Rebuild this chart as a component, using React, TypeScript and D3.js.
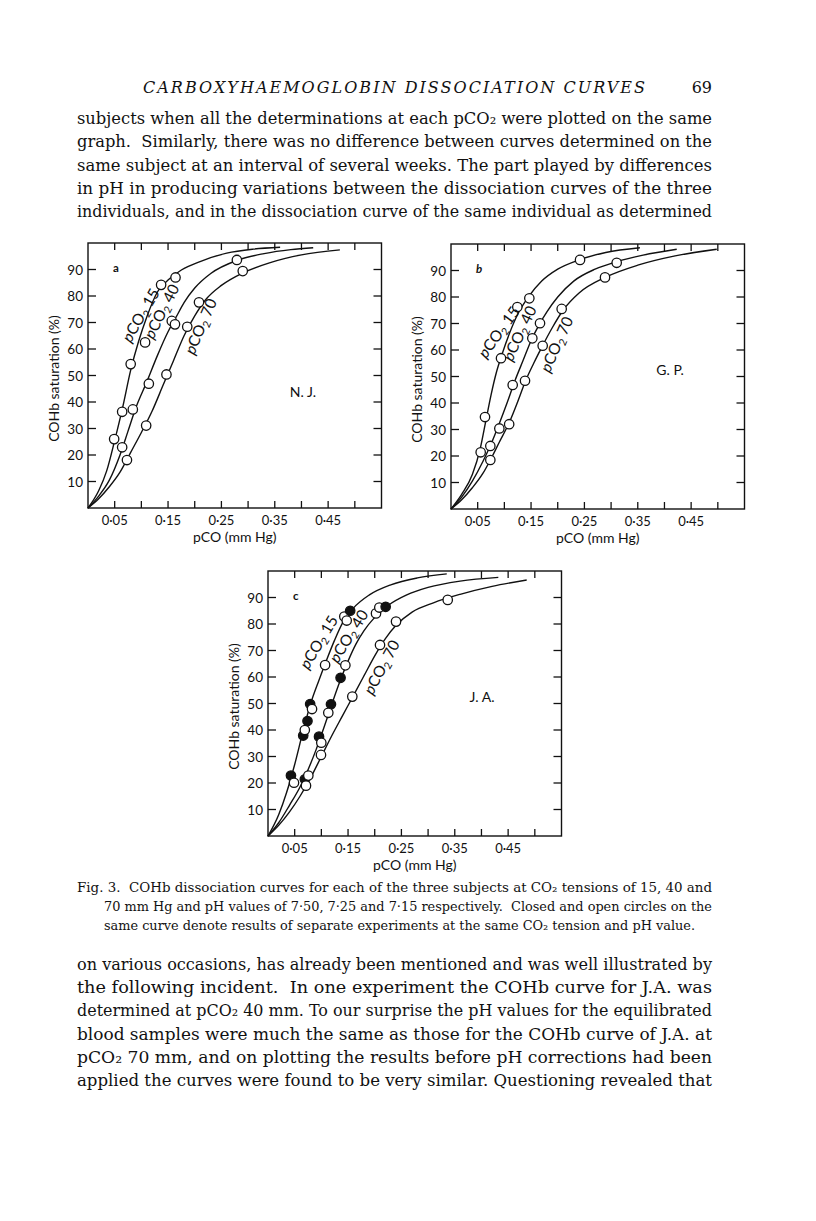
import React from "react";
import * as d3 from "d3";

// axis ticks (pCO in mm Hg, COHb saturation in %)
const xTicks = [0.05, 0.1, 0.15, 0.2, 0.25, 0.3, 0.35, 0.4, 0.45, 0.5];
const xLabels = [0.05, 0.15, 0.25, 0.35, 0.45];
const yTicks = [10, 20, 30, 40, 50, 60, 70, 80, 90];

// ---- panel a, N. J. : fitted curves [pCO, %] ----
const njCurve15 = [[0, 0], [0.02, 6.5], [0.035, 14], [0.05, 25.5], [0.065, 38], [0.08, 52], [0.095, 63], [0.11, 72], [0.13, 81.5], [0.15, 86], [0.175, 89.8], [0.21, 93], [0.26, 96.2], [0.31, 97.7], [0.36, 98.4]];
const njCurve40 = [[0, 0], [0.02, 4.5], [0.04, 10.5], [0.06, 20], [0.075, 29], [0.09, 38], [0.11, 47.5], [0.13, 57.5], [0.15, 66.5], [0.165, 72], [0.18, 77.5], [0.2, 83], [0.23, 88.5], [0.28, 93.5], [0.33, 96], [0.38, 97.5], [0.422, 98.2]];
const njCurve70 = [[0, 0], [0.02, 3.5], [0.04, 8], [0.06, 13.5], [0.08, 21], [0.1, 28.5], [0.12, 36.5], [0.14, 46], [0.16, 55.5], [0.18, 65], [0.2, 72.5], [0.22, 78.5], [0.25, 84], [0.29, 88.7], [0.34, 92.5], [0.4, 95.5], [0.472, 97.4]];
// observed points [pCO, %, filled]
const njPoints15 = [[0.049, 26, 0], [0.064, 36.3, 0], [0.08, 54.3, 0], [0.107, 62.5, 0], [0.137, 84.2, 0], [0.164, 87, 0]];
const njPoints40 = [[0.064, 22.9, 0], [0.084, 37.2, 0], [0.114, 46.9, 0], [0.157, 70.6, 0], [0.163, 69.3, 0], [0.279, 93.6, 0]];
const njPoints70 = [[0.073, 18.1, 0], [0.109, 31.1, 0], [0.147, 50.4, 0], [0.186, 68.4, 0], [0.208, 77.6, 0], [0.29, 89.4, 0]];

// ---- panel b, G. P. ----
const gpCurve15 = [[0, 0], [0.02, 5.5], [0.04, 13], [0.055, 23], [0.065, 33], [0.075, 43], [0.085, 51.5], [0.095, 58], [0.11, 66.5], [0.125, 73.5], [0.145, 80], [0.17, 86], [0.2, 90.5], [0.24, 94], [0.29, 96.8], [0.354, 98.6]];
const gpCurve40 = [[0, 0], [0.02, 4.5], [0.04, 10.5], [0.06, 18], [0.075, 24.5], [0.09, 32], [0.105, 40], [0.12, 48.5], [0.135, 56], [0.15, 63.5], [0.165, 69.5], [0.18, 74.5], [0.2, 80], [0.23, 86], [0.27, 90.5], [0.31, 93.3], [0.36, 95.8], [0.423, 98]];
const gpCurve70 = [[0, 0], [0.02, 3.5], [0.04, 8], [0.06, 13.5], [0.075, 19], [0.09, 25], [0.11, 33], [0.125, 40.5], [0.14, 48.5], [0.155, 55], [0.17, 61], [0.19, 68.5], [0.21, 75], [0.24, 81.5], [0.29, 87.5], [0.35, 92], [0.42, 95.5], [0.498, 98]];
const gpPoints15 = [[0.0556, 21.4, 0], [0.0637, 34.7, 0], [0.0937, 56.9, 0], [0.1243, 76.2, 0], [0.1468, 79.5, 0], [0.2418, 94, 0]];
const gpPoints40 = [[0.0737, 23.8, 0], [0.0906, 30.4, 0], [0.1156, 46.8, 0], [0.1524, 64.4, 0], [0.1668, 70.1, 0], [0.3105, 92.9, 0]];
const gpPoints70 = [[0.0737, 18.5, 0], [0.109, 32, 0], [0.1387, 48.4, 0], [0.1718, 61.6, 0], [0.2074, 75.5, 0], [0.2886, 87.4, 0]];

// ---- panel c, J. A. ----
const jaCurve15 = [[0, 0], [0.02, 8], [0.035, 16.5], [0.05, 27], [0.065, 39], [0.08, 50], [0.095, 58.5], [0.11, 66.5], [0.125, 74], [0.14, 80.5], [0.16, 86], [0.19, 91], [0.23, 94.8], [0.28, 97.4], [0.335, 98.9]];
const jaCurve40 = [[0, 0], [0.02, 5], [0.04, 11.5], [0.06, 18.5], [0.075, 25], [0.09, 32.5], [0.105, 41], [0.12, 50], [0.135, 58.5], [0.15, 66], [0.165, 72.5], [0.18, 77.5], [0.2, 82.5], [0.225, 87], [0.26, 91], [0.3, 93.8], [0.36, 96.2], [0.4316, 97.6]];
const jaCurve70 = [[0, 0], [0.02, 4], [0.04, 9], [0.06, 15], [0.08, 22], [0.1, 30], [0.12, 38], [0.14, 45.5], [0.16, 53], [0.18, 60.5], [0.2, 68], [0.22, 74.5], [0.24, 79.5], [0.27, 84.5], [0.31, 88], [0.36, 91.2], [0.42, 94.2], [0.4848, 96.6]];
const jaPoints15 = [[0.043, 22.8, 1], [0.0487, 20.1, 0], [0.066, 37.9, 1], [0.069, 40, 0], [0.074, 43.4, 1], [0.079, 49.8, 1], [0.0825, 47.9, 0], [0.107, 64.5, 0], [0.143, 82.8, 0], [0.1475, 81.3, 0], [0.154, 85, 1]];
const jaPoints40 = [[0.069, 21.4, 1], [0.0756, 22.8, 0], [0.0956, 37.5, 1], [0.0999, 35.2, 0], [0.118, 49.7, 1], [0.113, 46.5, 0], [0.136, 59.7, 1], [0.145, 64.4, 0], [0.2024, 84, 0], [0.2086, 86.2, 0], [0.2205, 86.5, 1]];
const jaPoints70 = [[0.0712, 19, 0], [0.0993, 30.6, 0], [0.158, 52.6, 0], [0.2099, 72.1, 0], [0.2399, 80.9, 0], [0.3368, 89.1, 0]];

const curveNames = ["15", "40", "70"];

// page text
const headerTitle = "CARBOXYHAEMOGLOBIN DISSOCIATION CURVES";
const pageNumber = "69";
const topLines = [
  "subjects when all the determinations at each pCO₂ were plotted on the same",
  "graph.  Similarly, there was no difference between curves determined on the",
  "same subject at an interval of several weeks. The part played by differences",
  "in pH in producing variations between the dissociation curves of the three",
  "individuals, and in the dissociation curve of the same individual as determined",
];
const captionLines = [
  "Fig. 3.  COHb dissociation curves for each of the three subjects at CO₂ tensions of 15, 40 and",
  "70 mm Hg and pH values of 7·50, 7·25 and 7·15 respectively.  Closed and open circles on the",
  "same curve denote results of separate experiments at the same CO₂ tension and pH value.",
];
const bottomLines = [
  "on various occasions, has already been mentioned and was well illustrated by",
  "the following incident.  In one experiment the COHb curve for J.A. was",
  "determined at pCO₂ 40 mm. To our surprise the pH values for the equilibrated",
  "blood samples were much the same as those for the COHb curve of J.A. at",
  "pCO₂ 70 mm, and on plotting the results before pH corrections had been",
  "applied the curves were found to be very similar. Questioning revealed that",
];

const W = 293.5;
const H = 265;
const SANS = "Lato, 'Open Sans', sans-serif";
const SERIF = "'DejaVu Serif', serif";

const panels = [
  {
    letter: "a", italic: false, left: 88, top: 243, subject: "N. J.", subjectAt: [303, 397],
    curves: [njCurve15, njCurve40, njCurve70], points: [njPoints15, njPoints40, njPoints70],
    labels: [[142, 316, -60], [163, 312, -63], [202, 327, -67]],
  },
  {
    letter: "b", italic: true, left: 451, top: 244, subject: "G. P.", subjectAt: [670, 375],
    curves: [gpCurve15, gpCurve40, gpCurve70], points: [gpPoints15, gpPoints40, gpPoints70],
    labels: [[500, 333, -54], [521, 334, -65], [558, 345, -66]],
  },
  {
    letter: "c", italic: false, left: 268, top: 571, subject: "J. A.", subjectAt: [482, 702],
    curves: [jaCurve15, jaCurve40, jaCurve70], points: [jaPoints15, jaPoints40, jaPoints70],
    labels: [[320, 643, -59], [350, 637, -58], [383, 668, -62]],
  },
];

const fmt = (v: number) => d3.format(".2f")(v).replace(".", "·");

function Panel({ p }: { p: any }) {
  const x = d3.scaleLinear().domain([0, 0.55]).range([p.left, p.left + W]);
  const y = d3.scaleLinear().domain([0, 100]).range([p.top + H, p.top]);
  const line = d3.line<number[]>().x((d) => x(d[0])).y((d) => y(d[1])).curve(d3.curveMonotoneX);
  const bottom = p.top + H;
  const right = p.left + W;
  return (
    <g fontFamily={SANS} fill="#111">
      <rect x={p.left} y={p.top} width={W} height={H} fill="none" stroke="#111" strokeWidth={1.4} />
      {xTicks.map((t) => (
        <g key={"x" + t} stroke="#111" strokeWidth={1.3}>
          <line x1={x(t)} x2={x(t)} y1={bottom} y2={bottom - 7} />
          <line x1={x(t)} x2={x(t)} y1={p.top} y2={p.top + 7} />
        </g>
      ))}
      {yTicks.map((t) => (
        <g key={"y" + t} stroke="#111" strokeWidth={1.3}>
          <line x1={p.left} x2={p.left + 8} y1={y(t)} y2={y(t)} />
          <line x1={right} x2={right - 8} y1={y(t)} y2={y(t)} />
        </g>
      ))}
      {yTicks.map((t) => (
        <text key={"yl" + t} x={p.left - 5} y={y(t) + 5} fontSize={13.5} textAnchor="end">{t}</text>
      ))}
      {xLabels.map((t) => (
        <text key={"xl" + t} x={x(t)} y={bottom + 17} fontSize={13} textAnchor="middle">{fmt(t)}</text>
      ))}
      <text x={p.left + W / 2} y={bottom + 34} fontSize={14} textAnchor="middle">pCO (mm Hg)</text>
      <text transform={`translate(${p.left - 29},${p.top + H / 2 + 3}) rotate(-90)`} fontSize={14} textAnchor="middle">
        COHb saturation (%)
      </text>
      <text x={p.left + 25} y={p.top + 29} fontSize={11.5} fontWeight="bold" fontStyle={p.italic ? "italic" : "normal"}>{p.letter}</text>
      <text x={p.subjectAt[0]} y={p.subjectAt[1]} fontSize={14} textAnchor="middle">{p.subject}</text>
      {p.curves.map((c: number[][], i: number) => (
        <path key={"c" + i} d={line(c) || ""} fill="none" stroke="#111" strokeWidth={1.4} />
      ))}
      {p.points.map((pts: number[][], i: number) =>
        pts.map((d, j) => (
          <circle key={"p" + i + "-" + j} cx={x(d[0])} cy={y(d[1])} r={4.7}
            fill={d[2] ? "#111" : "#fff"} stroke="#111" strokeWidth={1.3} />
        ))
      )}
      {p.labels.map((l: number[], i: number) => (
        <text key={"l" + i} transform={`translate(${l[0]},${l[1]}) rotate(${l[2]})`} fontSize={15.5} textAnchor="middle" dominantBaseline="middle">
          <tspan fontStyle="italic">p</tspan>CO<tspan fontSize={10.5} dy={4}>2</tspan><tspan dy={-4}> {curveNames[i]}</tspan>
        </text>
      ))}
    </g>
  );
}

function Lines({ lines, x0, y0, step, width, size, indent = 0, lastWidth }: any) {
  return (
    <g fontFamily={SERIF} fontSize={size} fill="#111">
      {lines.map((s: string, i: number) => {
        const ind = i > 0 ? indent : 0;
        const w = i === lines.length - 1 && lastWidth ? lastWidth : width - ind;
        return (
          <text key={i} x={x0 + ind} y={y0 + i * step} textLength={w} lengthAdjust="spacingAndGlyphs" xmlSpace="preserve">{s}</text>
        );
      })}
    </g>
  );
}

export default function App() {
  return (
    <svg width={816} height={1221} style={{ position: "absolute", left: 0, top: 0, background: "#fff" }}>
      <rect width={816} height={1221} fill="#fff" />
      <text x={143} y={93} fontFamily={SERIF} fontSize={16} fontStyle="italic" textLength={502} lengthAdjust="spacing" fill="#111">
        {headerTitle}
      </text>
      <text x={712} y={93} fontFamily={SERIF} fontSize={16} textAnchor="end" fill="#111">{pageNumber}</text>
      <Lines lines={topLines} x0={77} y0={124} step={23.3} width={635} size={16.5} />
      {panels.map((p) => <Panel key={p.letter} p={p} />)}
      <Lines lines={captionLines} x0={77} y0={892} step={19} width={635} size={13} indent={27} lastWidth={591} />
      <Lines lines={bottomLines} x0={77} y0={970} step={23.2} width={635} size={16.5} />
    </svg>
  );
}
